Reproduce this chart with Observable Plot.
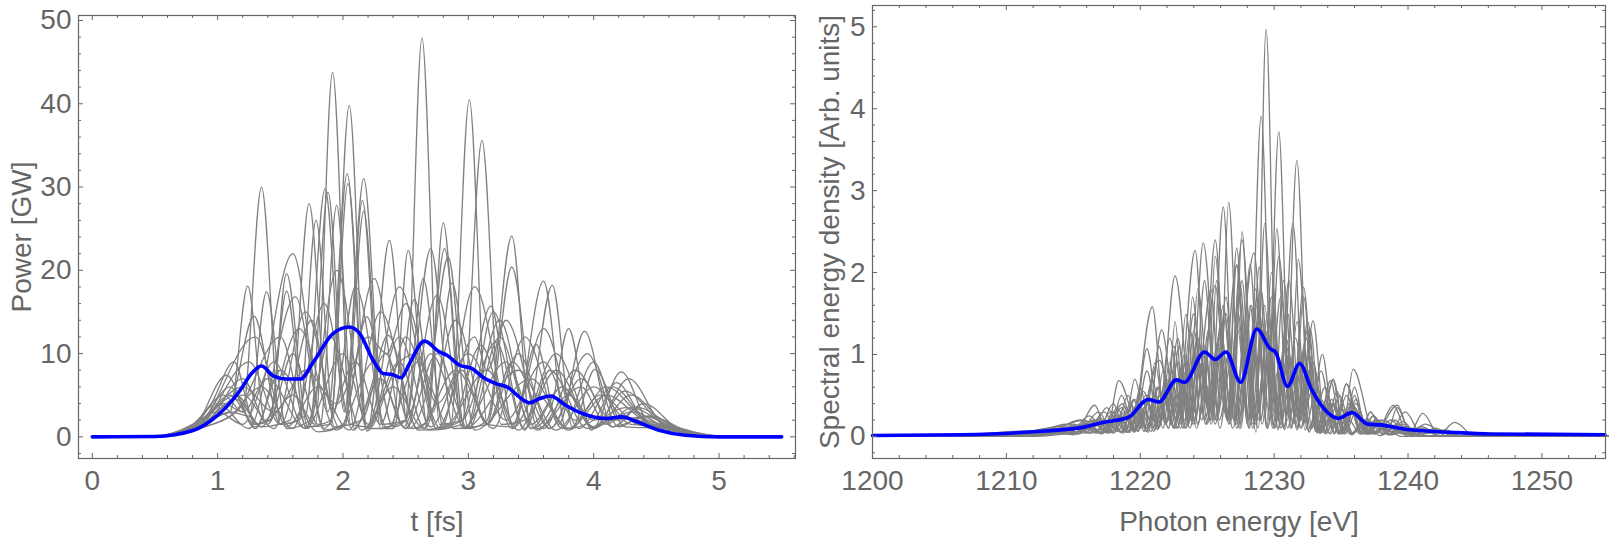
<!DOCTYPE html>
<html><head><meta charset="utf-8">
<script src="https://cdn.jsdelivr.net/npm/d3@7"></script>
<script src="https://cdn.jsdelivr.net/npm/@observablehq/plot@0.6"></script>
<style>body{margin:0;background:#fff}#wrap{display:flex;width:1609px;height:542px}</style>
</head><body><div id="wrap"></div>
<script>
// ---- Left panel: power profiles (t [fs], P [GW]) as flat [t, P, t, P, ...] knot lists
const powerShots = [
 [0,0, 0.45,0, 0.8,0.8, 1.0,2.5, 1.1,3.0, 1.24,18.1, 1.38,1.8, 1.6,5, 1.78,1.5, 1.917,43.8, 2.06,1.5, 2.2,1.2, 2.37,23.6, 2.52,1, 2.68,6, 2.84,21.6, 3.0,1, 3.15,2, 3.347,24.1, 3.5,1, 3.65,3, 3.8,13.0, 3.98,0.8, 4.22,7.8, 4.45,1.5, 4.7,0.7, 5.0,0.05, 5.5,0],
 [0,0, 0.45,0, 0.75,0.6, 0.95,4, 1.13,9.0, 1.3,1.5, 1.42,2.5, 1.55,17.5, 1.7,1.2, 1.9,1.5, 2.05,39.8, 2.19,1, 2.4,1, 2.57,16.5, 2.74,1, 2.95,2, 3.18,15.7, 3.36,1, 3.6,18.7, 3.78,1, 4.0,2, 4.18,6.5, 4.45,1.2, 4.75,0.5, 5.05,0, 5.5,0],
 [0,0, 0.5,0, 0.8,1, 1.07,7.4, 1.3,1.2, 1.62,16.8, 1.85,0.8, 2.0,1.5, 2.19,14.4, 2.4,1.2, 2.5,2, 2.63,47.9, 2.77,1.5, 2.95,2, 3.22,11.4, 3.45,0.8, 3.67,18.2, 3.83,1.2, 4.01,8.1, 4.25,1.2, 4.6,1.0, 4.9,0.2, 5.2,0, 5.5,0],
 [0,0, 0.45,0, 0.8,1.2, 1.05,4, 1.2,3, 1.35,30.0, 1.5,1.5, 1.65,2, 1.785,26.0, 1.93,1.2, 2.15,2, 2.36,12.2, 2.6,0.8, 2.86,1.5, 3.008,40.5, 3.15,1.5, 3.35,1.2, 3.54,11.1, 3.72,1.5, 3.927,12.7, 4.15,1.2, 4.45,2.5, 4.75,0.7, 5.05,0, 5.5,0],
 [0,0, 0.5,0, 0.85,1.5, 1.1,4, 1.29,14.5, 1.5,1.5, 1.7,2.5, 1.857,29.8, 2.01,3, 2.166,31.0, 2.32,1.2, 2.5,2, 2.7,22.6, 2.88,1, 3.15,1.5, 3.347,20.4, 3.55,1, 3.9,6, 4.1,1.5, 4.3,3.5, 4.6,1.3, 4.9,0.2, 5.2,0, 5.5,0],
 [0,0, 0.5,0, 0.85,1, 1.1,3, 1.25,2.5, 1.39,17.4, 1.55,1, 1.74,2, 1.88,29.4, 2.02,3, 2.155,28.4, 2.3,1, 2.4,1.5, 2.52,22.4, 2.68,0.8, 2.95,1.5, 3.109,35.6, 3.26,1.5, 3.45,2, 3.7,8, 4.0,1.2, 4.3,3, 4.6,0.9, 4.9,0.1, 5.2,0, 5.5,0],
 [0,0, 0.45,0, 0.8,0.8, 1.1,5, 1.3,1.5, 1.42,2, 1.55,19.6, 1.72,1.2, 1.82,1.5, 1.949,27.8, 2.09,1, 2.34,10, 2.55,1, 2.68,2, 2.8,25.7, 2.95,1, 3.3,9, 3.55,0.8, 3.8,5, 4.0,2, 4.25,3.5, 4.55,1.3, 4.85,0.3, 5.1,0, 5.5,0],
 [0,0, 0.5,0, 0.85,1.2, 1.15,4.5, 1.35,1.2, 1.58,2, 1.73,28.0, 1.88,3, 2.034,31.6, 2.18,1, 2.45,9, 2.65,1, 2.81,22.6, 2.97,1, 3.4,8, 3.7,0.8, 4.0,6, 4.3,1.5, 4.6,1.3, 4.9,0.2, 5.2,0, 5.5,0],
 [0,0, 0.5,0, 0.9,1.5, 1.2,7, 1.4,1.5, 1.6,10, 1.8,1.5, 1.9,2, 2.04,30.4, 2.19,0.7, 2.45,9, 2.6,10, 2.72,3, 2.87,18.5, 3.05,0.8, 3.5,7, 3.8,1, 4.1,5, 4.4,2, 4.7,0.7, 5.0,0, 5.5,0],
 [0,0, 0.5,0, 0.85,1.5, 1.1,6, 1.3,1, 1.5,8, 1.8,0.6, 2.02,1.5, 2.166,27.1, 2.31,1.5, 2.5,2, 2.64,19.0, 2.8,1.2, 3.15,8, 3.4,0.8, 3.7,10, 4.0,1, 4.3,5, 4.6,1.1, 4.9,0.1, 5.2,0, 5.5,0],
 [0,0, 0.45,0, 0.75,1, 1.0,3, 1.2,1.5, 1.45,9, 1.7,1, 1.9,12, 2.15,0.8, 2.4,6, 2.65,1, 2.9,14, 3.15,1.5, 3.4,10, 3.65,1, 3.9,7, 4.15,1.2, 4.4,4, 4.7,0.7, 5.0,0, 5.5,0],
 [0,0, 0.5,0, 0.8,1, 1.15,5, 1.35,1.2, 1.65,13, 1.95,0.8, 2.25,9, 2.5,1, 2.75,10, 3.0,1, 3.25,12, 3.5,1.5, 3.75,6, 4.0,1.2, 4.25,5.5, 4.55,1.5, 4.85,0.3, 5.1,0, 5.5,0],
 [0,0, 0.5,0, 0.85,1.5, 1.2,6, 1.45,3, 1.7,8, 1.95,4, 2.2,12, 2.35,10, 2.5,16, 2.75,4, 3.0,10, 3.3,2, 3.6,9, 3.85,2, 4.1,6, 4.4,2.2, 4.7,1, 5.0,0.05, 5.5,0],
 [0,0, 0.5,0, 0.85,1.5, 1.3,12, 1.55,1.2, 1.8,6, 2.05,0.8, 2.3,15, 2.6,1, 2.9,8, 3.2,1, 3.45,12, 3.75,1, 4.0,9, 4.2,2, 4.35,3.5, 4.65,1.1, 4.95,0.1, 5.2,0, 5.5,0],
 [0,0, 0.5,0, 0.85,1.2, 1.25,9, 1.5,1.5, 1.75,14, 1.92,3, 2.1,18, 2.35,1, 2.6,9, 2.85,1.2, 3.1,11, 3.35,1, 3.55,5, 3.8,0.8, 4.05,5, 4.35,1.5, 4.65,0.9, 4.95,0.1, 5.2,0, 5.5,0],
 [0,0, 0.45,0, 0.8,1.5, 1.05,5, 1.2,3, 1.4,7, 1.7,1, 2.0,10, 2.2,1.5, 2.45,18, 2.75,1, 3.05,12, 3.15,8, 3.3,14, 3.6,1, 3.85,8, 4.15,2, 4.45,2.5, 4.75,0.5, 5.05,0, 5.5,0],
 [0,0, 0.5,0, 0.85,1, 1.15,3, 1.5,12, 1.72,1, 1.95,20, 2.2,1, 2.45,12, 2.7,1.2, 2.95,8, 3.15,1.5, 3.35,9, 3.65,1, 3.95,10, 4.2,1.2, 4.4,2.5, 4.7,0.7, 5.0,0, 5.5,0],
 [0,0, 0.5,0, 0.85,1, 1.1,2.5, 1.35,6, 1.6,1, 1.85,16, 2.08,0.8, 2.3,7, 2.5,1, 2.75,17, 2.98,1, 3.2,15, 3.45,1, 3.65,8, 3.95,1, 4.2,2.5, 4.5,1.3, 4.8,0.3, 5.1,0, 5.5,0],
 [0,0, 0.45,0, 0.75,0.8, 1.0,4, 1.25,1, 1.6,22, 1.85,1, 2.1,9, 2.3,1.5, 2.5,12, 2.78,1, 3.05,18, 3.35,1.5, 3.6,13, 3.88,1, 4.15,6, 4.45,1.5, 4.75,0.7, 5.05,0, 5.5,0],
 [0,0, 0.5,0, 0.85,1.2, 1.2,5, 1.45,1, 1.7,15, 1.98,1, 2.25,19, 2.48,1.2, 2.7,10, 2.98,1, 3.25,14, 3.5,1, 3.75,6, 4.0,1, 4.28,7, 4.55,1.5, 4.85,0.3, 5.1,0, 5.5,0]
];
const powerMean = [0,0, 0.5,0.05, 0.81,0.8, 0.943,1.9, 1.07,3.6, 1.18,5.6, 1.27,7.6, 1.35,8.5, 1.446,7.3, 1.55,6.95, 1.66,6.95, 1.763,8.97, 1.92,12.4, 2.05,13.2, 2.134,12.4, 2.24,9.2, 2.32,7.6, 2.39,7.5, 2.465,7.1, 2.53,8.8, 2.65,11.5, 2.77,10.2, 2.83,9.8, 2.93,8.6, 3.03,8.2, 3.113,7.2, 3.22,6.4, 3.32,5.9, 3.405,4.8, 3.49,4.1, 3.57,4.6, 3.657,4.9, 3.776,3.8, 3.91,2.8, 4.094,2.2, 4.226,2.4, 4.33,1.9, 4.52,0.8, 4.73,0.2, 5.0,0, 5.5,0];
const timeTicks = [0, 1, 2, 3, 4, 5];
const powerTicks = [0, 10, 20, 30, 40, 50];

// ---- Right panel: spectra (E [eV], density) as flat [E, S, E, S, ...] knot lists
const spectrumShots = [
 [1200,0, 1208,0, 1211,.02, 1213.5,.06, 1215,.02, 1216.5,.2, 1217.5,.05, 1218.6,.35, 1219.5,.08, 1220.5,1.07, 1221.45,.15, 1222.4,.8, 1223.35,.1, 1224.3,1.2, 1225.25,.2, 1226.2,2.80, 1227.05,.15, 1227.9,.9, 1228.65,.05, 1229.4,4.97, 1230.25,.08, 1231.1,1.0, 1232.0,.1, 1232.9,1.41, 1233.85,.03, 1234.8,.3, 1235.8,.02, 1236.8,.2, 1237.9,.01, 1239,.12, 1241,0, 1255,0],
 [1200,0, 1206,0, 1210,.03, 1213.5,.08, 1215.1,.03, 1216.6,.38, 1217.5,.06, 1218.4,.68, 1219.9,.1, 1221.4,.93, 1222.75,.2, 1224.1,2.27, 1225.0,.15, 1226.0,1.3, 1226.9,.1, 1228.5,2.24, 1229.45,.1, 1230.35,3.72, 1231.2,.1, 1232.2,1.0, 1233.3,.05, 1234.4,.68, 1235.15,.1, 1235.9,.82, 1237.5,.03, 1239.2,.38, 1240.15,.05, 1241.1,.28, 1242.3,.03, 1243.5,.17, 1245,0, 1255,0],
 [1200,0, 1210,0, 1213,.03, 1215.5,.2, 1216.7,.05, 1217.8,.3, 1219.35,.1, 1220.9,1.58, 1221.85,.15, 1222.8,.9, 1223.75,.2, 1224.7,2.36, 1225.95,.1, 1227.2,2.08, 1228.1,.1, 1229.03,3.91, 1229.9,.15, 1230.8,1.1, 1231.25,.6, 1231.8,2.16, 1232.8,.1, 1233.8,.6, 1234.8,.05, 1235.8,.4, 1237,.03, 1238.2,.1, 1239.5,0, 1255,0],
 [1200,0, 1211,0, 1216,.15, 1217.1,.03, 1218.2,.25, 1219.1,.05, 1220.2,.55, 1221.4,.12, 1222.6,1.96, 1223.95,.15, 1225.3,1.79, 1225.95,.4, 1226.6,2.86, 1227.5,.1, 1228.3,1.6, 1229.1,.15, 1229.9,1.3, 1230.8,.08, 1231.7,3.37, 1232.6,.05, 1233.5,.8, 1234.5,.03, 1235.4,.64, 1236.6,.03, 1237.8,.2, 1238.6,.02, 1239.6,.1, 1241,0, 1255,0],
 [1200,0, 1204,0, 1208,.03, 1212,.07, 1213.5,.04, 1215,.12, 1216.2,.04, 1217.5,.35, 1218.6,.06, 1219.6,.45, 1220.5,.1, 1221.6,1.3, 1222.7,.2, 1223.4,1.49, 1224.3,.15, 1225.6,1.84, 1226.5,.3, 1227.3,1.5, 1228.1,.2, 1228.9,2.07, 1229.55,.2, 1230.2,2.54, 1231.0,.1, 1231.9,.9, 1232.7,.1, 1233.6,1.0, 1234.5,.05, 1235.4,.64, 1236.4,.05, 1237.2,.3, 1238.1,.05, 1239,.2, 1240,.04, 1241,.12, 1242.5,0, 1255,0],
 [1200,0, 1208,0, 1211,.03, 1214,.1, 1215.4,.03, 1216.8,.2, 1217.7,.05, 1218.6,.5, 1219.6,.06, 1220.5,.4, 1221.3,.1, 1222.2,1.2, 1223.2,.1, 1224.3,1.2, 1225.0,.35, 1225.6,2.2, 1226.5,.2, 1227.4,1.7, 1228.15,.1, 1228.9,1.5, 1229.6,.3, 1230.35,2.2, 1231.3,.1, 1232.2,1.82, 1233.1,.06, 1234.0,.5, 1234.8,.04, 1235.6,.4, 1236.5,.03, 1237.4,.25, 1238.5,.02, 1239.6,.15, 1241,0, 1255,0],
 [1200,0, 1210,0, 1213,.04, 1215.5,.12, 1216.8,.04, 1218.0,.4, 1218.8,.08, 1219.6,.7, 1220.5,.1, 1221.4,.6, 1222.0,.2, 1222.6,1.4, 1223.3,.15, 1223.9,1.7, 1224.8,.2, 1225.9,1.2, 1226.7,.15, 1227.6,1.9, 1228.4,.1, 1229.2,1.3, 1230.05,.1, 1231.0,1.5, 1231.9,.2, 1232.9,.9, 1233.9,.05, 1234.9,.5, 1235.8,.04, 1236.7,.2, 1237.6,.04, 1238.9,.38, 1240,.03, 1241.3,.15, 1243,0, 1255,0],
 [1200,0, 1207,0, 1210,.02, 1213,.05, 1214.6,.03, 1216.2,.25, 1217.5,.04, 1218.9,.3, 1219.6,.1, 1220.5,.8, 1221.4,.12, 1222.2,.6, 1223.0,.1, 1224.0,1.5, 1224.9,.15, 1225.8,1.0, 1226.5,.2, 1227.2,2.3, 1228.0,.15, 1228.7,1.6, 1229.2,.5, 1229.8,2.0, 1230.7,.1, 1231.6,1.2, 1232.5,.08, 1233.5,.45, 1234.5,.05, 1235.4,.5, 1236.5,.03, 1237.6,.2, 1238.6,.03, 1239.8,.3, 1241,.03, 1242,.1, 1243.5,0, 1255,0],
 [1200,0, 1211,0, 1214,.04, 1217,.2, 1218,.04, 1219.0,.3, 1219.8,.06, 1220.6,.5, 1221.4,.1, 1222.2,.9, 1223.0,.15, 1223.7,1.3, 1224.6,.2, 1225.6,2.4, 1226.5,.2, 1227.3,1.4, 1228.0,.3, 1228.6,1.8, 1229.5,.1, 1230.5,1.7, 1231.4,.15, 1232.4,1.2, 1233.3,.05, 1234.2,.68, 1235.1,.05, 1236.0,.35, 1237.1,.03, 1238,.2, 1240,.03, 1242,.08, 1243.5,0, 1255,0],
 [1200,0, 1209,0, 1212,.04, 1214.5,.15, 1215.9,.04, 1217.3,.3, 1218.3,.06, 1219.3,.4, 1220.05,.1, 1220.9,.7, 1221.7,.1, 1222.5,1.1, 1223.4,.1, 1224.4,.9, 1225.1,.3, 1225.7,1.9, 1226.6,.15, 1227.6,2.4, 1228.6,.2, 1229.5,1.2, 1230.5,.15, 1231.4,2.6, 1232.3,.08, 1233.2,.6, 1234.1,.04, 1235,.35, 1235.9,.04, 1237,.2, 1238.1,.03, 1239.2,.15, 1240.5,0, 1255,0],
 [1200,0, 1210,0, 1213,.03, 1216,.1, 1217.2,.04, 1218.5,.25, 1219.25,.05, 1220.0,.6, 1220.7,.12, 1221.4,.5, 1222.0,.2, 1222.8,1.2, 1223.7,.1, 1224.6,.9, 1225.4,.25, 1226.3,1.5, 1227.0,.4, 1227.6,2.5, 1228.4,.15, 1229.3,1.6, 1230.0,.3, 1230.7,1.9, 1231.6,.15, 1232.5,1.3, 1233.4,.05, 1234.3,.4, 1235.2,.04, 1236.0,.6, 1236.9,.03, 1237.7,.2, 1239,.03, 1240.2,.1, 1241.5,0, 1255,0],
 [1200,0, 1208,0, 1212,.05, 1215,.15, 1216.4,.04, 1217.7,.2, 1218.6,.05, 1219.5,.45, 1220.3,.06, 1221.1,.9, 1221.9,.15, 1222.7,.5, 1223.3,.2, 1224.0,1.3, 1224.9,.15, 1225.8,.7, 1226.5,.2, 1227.2,2.1, 1228.1,.2, 1229.0,1.8, 1229.9,.1, 1230.9,.9, 1231.5,.3, 1232.2,1.7, 1233.1,.06, 1234.0,.4, 1234.9,.03, 1235.8,.3, 1236.6,.03, 1237.4,.25, 1238.5,.03, 1239.8,.12, 1241,0, 1255,0],
 [1200,0, 1205,0, 1210,.03, 1213.8,.08, 1215.3,.03, 1216.9,.3, 1217.9,.05, 1218.8,.35, 1219.6,.08, 1220.4,.3, 1221.0,.1, 1221.7,.8, 1222.5,.1, 1223.3,1.0, 1224.0,.3, 1224.8,1.9, 1225.7,.2, 1226.6,1.0, 1227.4,.1, 1228.2,2.1, 1229.0,.2, 1229.7,1.1, 1230.5,.1, 1231.2,.8, 1232.0,.2, 1232.7,1.3, 1233.5,.04, 1234.4,.7, 1235.3,.04, 1236.1,.45, 1237.0,.03, 1237.8,.15, 1238.8,.02, 1239.8,.1, 1241,0, 1255,0],
 [1200,0, 1212,0, 1215,.05, 1217.5,.15, 1218.7,.04, 1219.8,.4, 1220.5,.06, 1221.3,.6, 1222.1,.1, 1222.9,1.1, 1223.6,.3, 1224.3,1.8, 1225.3,.15, 1226.2,1.6, 1227.0,.2, 1227.9,1.3, 1228.6,.15, 1229.3,2.6, 1230.1,.25, 1230.9,1.1, 1231.7,.12, 1232.5,1.4, 1233.4,.04, 1234.3,.25, 1235.1,.03, 1236.1,.4, 1237.2,.03, 1238.4,.12, 1240,.02, 1242.5,.05, 1244,0, 1255,0],
 [1200,0, 1210,0, 1213,.03, 1216,.12, 1217.2,.04, 1218.3,.35, 1219.1,.05, 1219.9,.25, 1220.6,.05, 1221.4,1.1, 1222.3,.15, 1223.1,.8, 1223.8,.2, 1224.5,1.0, 1225.3,.2, 1226.0,1.4, 1226.7,.3, 1227.4,1.9, 1228.3,.2, 1229.1,1.4, 1230.0,.1, 1230.9,.8, 1231.7,.1, 1232.6,1.0, 1233.4,.05, 1234.3,.45, 1235.2,.04, 1236.0,.5, 1236.8,.03, 1237.6,.2, 1238.4,.03, 1239.2,.35, 1240.2,.03, 1241,.1, 1242.5,0, 1255,0],
 [1200,0, 1207,0, 1211,.04, 1214,.12, 1215.5,.04, 1217,.22, 1218.05,.05, 1219.1,.5, 1219.85,.06, 1220.6,.4, 1221.3,.08, 1222.0,.7, 1222.8,.1, 1223.6,.9, 1224.3,.15, 1225.1,1.3, 1225.9,.2, 1226.8,.9, 1227.5,.15, 1228.2,1.6, 1229.0,.2, 1229.8,1.7, 1230.7,.1, 1231.5,.7, 1232.2,.15, 1232.9,.9, 1233.7,.04, 1234.5,.4, 1235.3,.03, 1236.1,.3, 1236.9,.03, 1237.7,.15, 1238.7,.02, 1239.7,.12, 1241,0, 1255,0],
 [1200,0, 1206,0, 1213,.06, 1216,.12, 1217,.05, 1218,.3, 1219,.05, 1220,.35, 1220.8,.06, 1221.7,.5, 1222.5,.1, 1223.4,.9, 1224.2,.1, 1225.0,.6, 1225.7,.2, 1226.4,1.5, 1227.2,.15, 1228.0,1.1, 1228.8,.1, 1229.5,1.5, 1230.3,.2, 1231.1,1.9, 1232.0,.1, 1232.9,.6, 1233.8,.04, 1234.7,.55, 1235.6,.03, 1236.5,.1, 1237.6,.03, 1238.7,.2, 1240,0, 1255,0],
 [1200,0, 1209,0, 1213,.05, 1215.8,.2, 1217.2,.04, 1218.7,.4, 1219.55,.06, 1220.4,.5, 1221.1,.08, 1221.9,.7, 1222.7,.1, 1223.5,.5, 1224.1,.15, 1224.8,1.1, 1225.6,.2, 1226.4,1.7, 1227.2,.1, 1228.1,.8, 1228.8,.2, 1229.5,1.3, 1230.3,.1, 1231.2,.6, 1231.8,.2, 1232.4,1.2, 1233.2,.04, 1234.0,.35, 1234.8,.03, 1235.6,.2, 1236.4,.03, 1237.2,.3, 1238.1,.02, 1239,.1, 1240.5,0, 1255,0],
 [1200,0, 1203,0, 1208,.03, 1213,.06, 1214.5,.03, 1216,.18, 1217,.04, 1218,.25, 1218.85,.05, 1219.7,.35, 1220.45,.06, 1221.3,.6, 1222.1,.1, 1222.9,.7, 1223.6,.15, 1224.4,1.1, 1225.2,.2, 1225.9,1.0, 1226.6,.2, 1227.3,1.3, 1228.0,.15, 1228.7,1.7, 1229.5,.1, 1230.3,.8, 1231.0,.2, 1231.7,1.4, 1232.6,.06, 1233.4,.3, 1234.2,.03, 1235.0,.35, 1235.8,.03, 1236.5,.15, 1237.4,.03, 1238.3,.15, 1239.6,.03, 1241,.08, 1242.5,0, 1255,0],
 [1200,0, 1211,0, 1214,.04, 1216.5,.15, 1217.7,.04, 1218.8,.25, 1219.55,.05, 1220.3,.35, 1221.0,.06, 1221.8,.5, 1222.6,.1, 1223.4,.8, 1224.1,.2, 1224.8,1.0, 1225.6,.15, 1226.3,.7, 1227.0,.2, 1227.8,1.2, 1228.6,.15, 1229.3,.9, 1230.1,.2, 1230.9,1.2, 1231.7,.08, 1232.6,.8, 1233.4,.04, 1234.2,.25, 1235.0,.03, 1235.9,.35, 1236.8,.03, 1237.7,.12, 1238.6,.03, 1239.6,.18, 1240.7,.03, 1242,.05, 1242.8,.08, 1244,0, 1255,0]
];
const spectrumMean = [1200,0.01, 1206.6,0.02, 1211.4,0.05, 1215.7,0.11, 1217.2,0.17, 1219.1,0.23, 1220.6,0.45, 1221.4,0.42, 1222.7,0.69, 1223.3,0.66, 1224.8,1.03, 1225.6,0.94, 1226.4,1.03, 1227.5,0.66, 1228.7,1.31, 1229.7,1.07, 1230.1,1.03, 1231.0,0.61, 1231.9,0.89, 1232.8,0.57, 1234.0,0.29, 1234.8,0.22, 1235.8,0.29, 1237.0,0.15, 1237.9,0.14, 1240.1,0.08, 1243.2,0.05, 1246.2,0.03, 1254.7,0.02];
const energyTicks = [1200, 1210, 1220, 1230, 1240, 1250];
const densityTicks = [0, 1, 2, 3, 4, 5];

const FONT = "'Liberation Sans', Arial, sans-serif";
const INK = "#666666";

function pairs(flat, id) {
  const out = [];
  for (let j = 0; j < flat.length; j += 2) out.push({x: flat[j], y: flat[j + 1], id});
  return out;
}

function panel(o) {
  const pw = o.width - o.ml - o.mr, ph = o.height - o.mt - o.mb;
  const kx = (o.xd[1] - o.xd[0]) / pw, ky = (o.yd[1] - o.yd[0]) / ph;
  const rows = o.shots.flatMap((s, i) => pairs(s, i));
  const meanRows = pairs(o.mean, "mean");
  const ticks = [];
  const tx = (vals, len) => {
    ticks.push(Plot.ruleX(vals, {x: d => d, y1: o.yd[0], y2: o.yd[0] + len * ky, stroke: INK, strokeWidth: 1}));
    ticks.push(Plot.ruleX(vals, {x: d => d, y1: o.yd[1], y2: o.yd[1] - len * ky, stroke: INK, strokeWidth: 1}));
  };
  const ty = (vals, len) => {
    ticks.push(Plot.ruleY(vals, {y: d => d, x1: o.xd[0], x2: o.xd[0] + len * kx, stroke: INK, strokeWidth: 1}));
    ticks.push(Plot.ruleY(vals, {y: d => d, x1: o.xd[1], x2: o.xd[1] - len * kx, stroke: INK, strokeWidth: 1}));
  };
  tx(o.xMajor, 5); tx(o.xMinor, 3); ty(o.yMajor, 5); ty(o.yMinor, 3);
  return Plot.plot({
    width: o.width, height: o.height,
    marginTop: o.mt, marginBottom: o.mb, marginLeft: o.ml, marginRight: o.mr,
    x: {domain: o.xd}, y: {domain: o.yd},
    style: {fontFamily: FONT, fontSize: "28px", color: INK, background: "#fff"},
    marks: [
      Plot.line(rows, {x: "x", y: "y", z: "id", stroke: "#808080", strokeWidth: 1.3, curve: "monotone-x"}),
      Plot.line(meanRows, {x: "x", y: "y", stroke: "#0000ff", strokeWidth: 3.6, curve: "monotone-x"}),
      ...ticks,
      Plot.frame({stroke: INK, strokeWidth: 1.2}),
      Plot.axisX({ticks: o.xMajor, tickSize: 0, tickPadding: 12, tickFormat: d => String(d), fontSize: 28, fontFamily: FONT, label: null}),
      Plot.axisY({ticks: o.yMajor, tickSize: 0, tickPadding: 7, tickFormat: d => String(d), fontSize: 28, fontFamily: FONT, label: null}),
      Plot.text([o.xLabel], {frameAnchor: "bottom", dy: 64, text: d => d, fontSize: 28, fontFamily: FONT, fill: INK, textAnchor: "middle", lineAnchor: "middle"}),
      Plot.text([o.yLabel], {frameAnchor: "left", dx: o.yLabelDx, rotate: -90, text: d => d, fontSize: 28, fontFamily: FONT, fill: INK, textAnchor: "middle", lineAnchor: "middle"})
    ]
  });
}

const notIn = (arr) => (v) => !arr.some(a => Math.abs(a - v) < 1e-6);
const wrap = document.getElementById("wrap");
wrap.append(panel({
  width: 800, height: 542, mt: 15, mb: 84, ml: 78, mr: 5,
  xd: [-0.11, 5.61], yd: [-2.6, 50.6],
  shots: powerShots, mean: powerMean,
  xMajor: timeTicks, xMinor: d3.range(0, 5.61, 0.2).map(v => +v.toFixed(1)).filter(notIn(timeTicks)),
  yMajor: powerTicks, yMinor: d3.range(-2, 50.6, 2).filter(notIn(powerTicks)),
  xLabel: "t [fs]", yLabel: "Power [GW]", yLabelDx: -56
}));
wrap.append(panel({
  width: 809, height: 542, mt: 5, mb: 84, ml: 72, mr: 4,
  xd: [1200, 1254.75], yd: [-0.27, 5.26],
  shots: spectrumShots, mean: spectrumMean,
  xMajor: energyTicks, xMinor: d3.range(1202, 1254.75, 2).filter(notIn(energyTicks)),
  yMajor: densityTicks, yMinor: d3.range(-0.2, 5.26, 0.2).map(v => +v.toFixed(1)).filter(notIn(densityTicks)),
  xLabel: "Photon energy [eV]", yLabel: "Spectral energy density [Arb. units]", yLabelDx: -42
}));
</script>
</body></html>
